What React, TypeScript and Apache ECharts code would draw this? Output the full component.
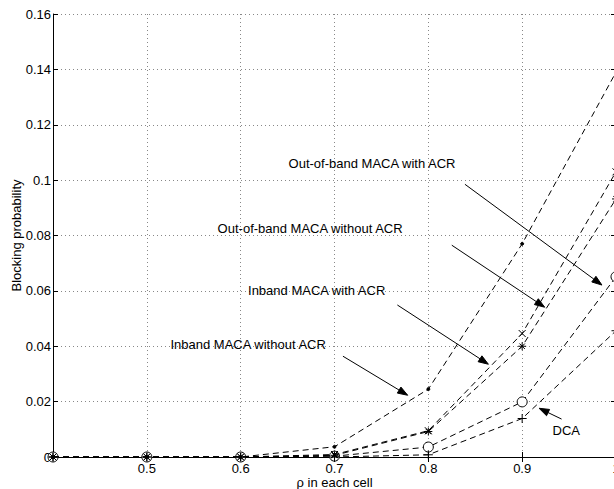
import React, { useEffect, useRef } from "react";
import * as echarts from "echarts";

// x values (rho in each cell)
const rho = [0.4, 0.5, 0.6, 0.7, 0.8, 0.9, 1.0];

// Blocking probabilities
const outbandWithACR = [0, 0, 0, 0.0037, 0.0245, 0.077, 0.139];
const outbandWithoutACR = [0, 0, 0, 0.0009, 0.0095, 0.0446, 0.103];
const inbandWithACR = [0, 0, 0, 0.0006, 0.0092, 0.040, 0.0932];
const inbandWithoutACR = [0, 0, 0, 0.0003, 0.0036, 0.0199, 0.0651];
const dca = [0, 0, 0, 0, 0.0008, 0.0139, 0.0456];

// Annotation texts and arrows (data coordinates)
const annTexts = [
  "Out-of-band MACA with ACR",
  "Out-of-band MACA without ACR",
  "Inband MACA with ACR",
  "Inband MACA without ACR",
  "DCA",
];
const annTextPos = [
  [0.740, 0.1061],
  [0.674, 0.0827],
  [0.681, 0.0603],
  [0.608, 0.0407],
  [0.947, 0.0096],
];
const annArrowFrom = [
  [0.839, 0.0985],
  [0.825, 0.0765],
  [0.767, 0.0549],
  [0.709, 0.0364],
  [0.942, 0.0137],
];
const annArrowTo = [
  [0.985, 0.0621],
  [0.924, 0.0541],
  [0.864, 0.0335],
  [0.778, 0.0223],
  [0.918, 0.0176],
];

const FONT = "'Liberation Sans', Arial, Helvetica, sans-serif";

const SYM_X = "path://M0,0L10,10M10,0L0,10";
const SYM_STAR = "path://M5,0L5,10M0,5L10,5M1.6,1.6L8.4,8.4M8.4,1.6L1.6,8.4";
const SYM_PLUS = "path://M5,0L5,10M0,5L10,5";

function mk(name: string, vals: number[], symbol: string, size: number, fill: string, z: number) {
  return {
    name,
    type: "line",
    data: rho.map((x, i) => [x, vals[i]]),
    symbol,
    symbolSize: size,
    showSymbol: true,
    lineStyle: { color: "#000", width: 1, type: [6, 4] },
    itemStyle: { color: fill, borderColor: "#000", borderWidth: 1 },
    z,
  };
}

export default function App() {
  const ref = useRef<HTMLDivElement>(null);
  useEffect(() => {
    if (!ref.current) return;
    const chart = echarts.init(ref.current, undefined, { renderer: "svg" });
    const axisLine = { show: true, lineStyle: { color: "#000", width: 1 } };
    const option: any = {
      animation: false,
      backgroundColor: "#fff",
      textStyle: { fontFamily: FONT },
      grid: {
        left: 53,
        top: 14,
        width: 563,
        height: 443,
        containLabel: false,
        outerBoundsMode: "none",
      },
      xAxis: [
        {
          type: "value",
          min: 0.4,
          max: 1.0,
          interval: 0.1,
          position: "bottom",
          name: "ρ in each cell",
          nameLocation: "middle",
          nameMoveOverlap: false,
          nameGap: 19,
          nameTextStyle: { color: "#000", fontSize: 13, fontFamily: FONT },
          axisLine,
          axisTick: { show: true, inside: true, length: 5, lineStyle: { color: "#000" } },
          axisLabel: {
            color: "#000",
            fontSize: 13,
            fontFamily: FONT,
            margin: 5,
            formatter: (v: number) => (Math.abs(v - 0.4) < 1e-6 ? "" : String(Math.round(v * 10) / 10)),
          },
          splitLine: { show: true, lineStyle: { color: "#888", width: 1, type: [1, 3] } },
        },
        {
          type: "value",
          min: 0.4,
          max: 1.0,
          interval: 0.1,
          position: "top",
          axisLine,
          axisTick: { show: true, inside: true, length: 5, lineStyle: { color: "#000" } },
          axisLabel: { show: false },
          splitLine: { show: false },
        },
      ],
      yAxis: [
        {
          type: "value",
          min: 0,
          max: 0.16,
          interval: 0.02,
          position: "left",
          name: "Blocking probability",
          nameLocation: "middle",
          nameMoveOverlap: false,
          nameGap: 30,
          nameTextStyle: { color: "#000", fontSize: 13, fontFamily: FONT },
          axisLine,
          axisTick: { show: true, inside: true, length: 5, lineStyle: { color: "#000" } },
          axisLabel: { color: "#000", fontSize: 13, fontFamily: FONT, margin: 2 },
          splitLine: { show: true, lineStyle: { color: "#888", width: 1, type: [1, 3] } },
        },
        {
          type: "value",
          min: 0,
          max: 0.16,
          interval: 0.02,
          position: "right",
          axisLine,
          axisTick: { show: true, inside: true, length: 5, lineStyle: { color: "#000" } },
          axisLabel: { show: false },
          splitLine: { show: false },
        },
      ],
      series: [
        mk("Out-of-band MACA with ACR", outbandWithACR, "circle", 3, "#000", 3),
        mk("Out-of-band MACA without ACR", outbandWithoutACR, SYM_X, 7, "#000", 3),
        mk("Inband MACA with ACR", inbandWithACR, SYM_STAR, 8, "#000", 3),
        mk("Inband MACA without ACR", inbandWithoutACR, "circle", 10, "#fff", 2),
        mk("DCA", dca, SYM_PLUS, 9, "#000", 3),
      ],
    };
    chart.setOption(option);

    const toPx = (p: number[]) => chart.convertToPixel({ seriesIndex: 0 }, p) as number[];
    const graphics: any[] = [];
    annTexts.forEach((t, i) => {
      const tp = toPx(annTextPos[i]);
      graphics.push({
        type: "text",
        x: tp[0],
        y: tp[1],
        style: {
          text: t,
          fill: "#000",
          font: `13px ${FONT}`,
          align: "center",
          verticalAlign: "middle",
        },
        z: 10,
      });
      const a = toPx(annArrowFrom[i]);
      const b = toPx(annArrowTo[i]);
      const dx = b[0] - a[0];
      const dy = b[1] - a[1];
      const len = Math.sqrt(dx * dx + dy * dy);
      const ux = dx / len;
      const uy = dy / len;
      const hl = 10;
      const hw = 3.5;
      const bx = b[0] - ux * hl;
      const by = b[1] - uy * hl;
      graphics.push({
        type: "line",
        shape: { x1: a[0], y1: a[1], x2: bx, y2: by },
        style: { stroke: "#000", lineWidth: 1 },
        z: 10,
      });
      graphics.push({
        type: "polygon",
        shape: {
          points: [
            [b[0], b[1]],
            [bx - uy * hw, by + ux * hw],
            [bx + uy * hw, by - ux * hw],
          ],
        },
        style: { fill: "#000", stroke: "#000", lineWidth: 1 },
        z: 10,
      });
    });
    chart.setOption({ graphic: graphics });

    return () => chart.dispose();
  }, []);
  return (
    <div
      ref={ref}
      style={{ position: "fixed", left: 0, top: 0, width: 614, height: 489, background: "#fff" }}
    />
  );
}
